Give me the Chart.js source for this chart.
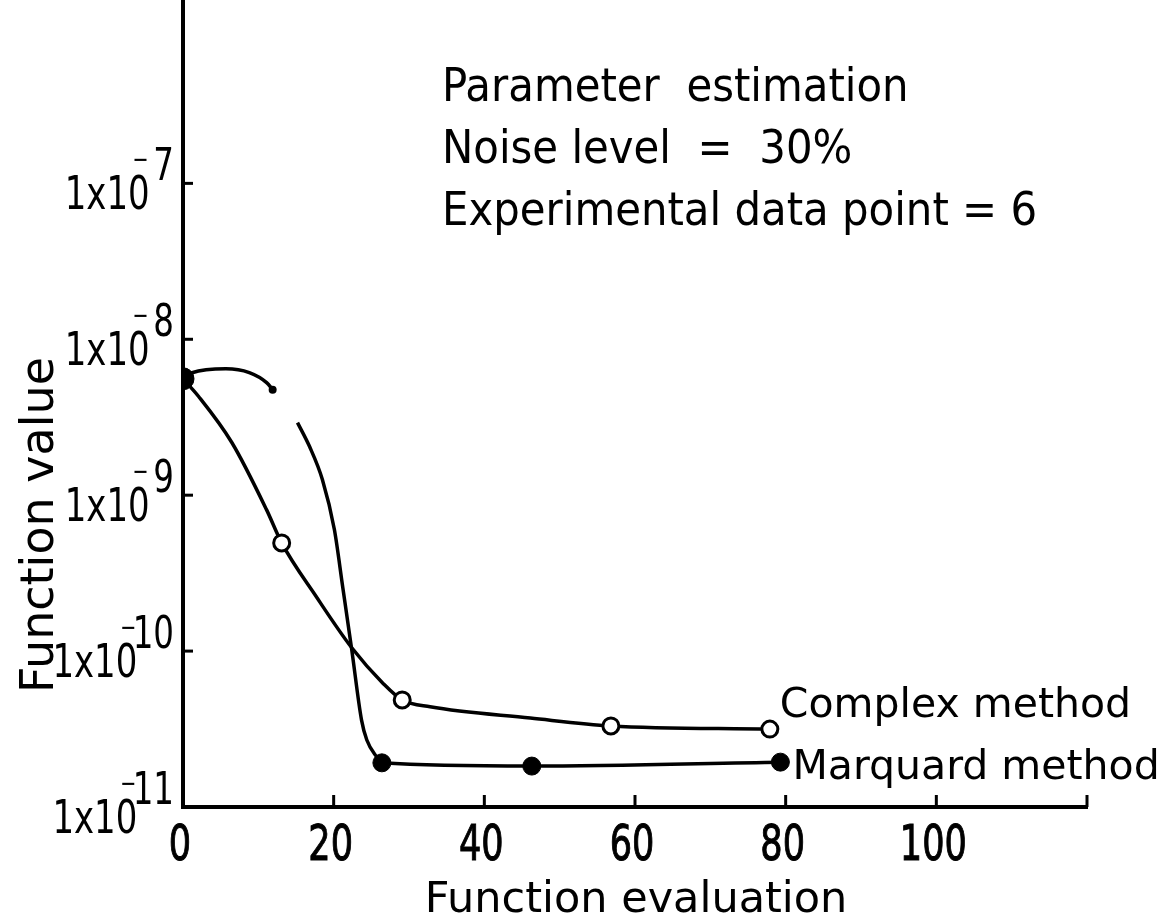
<!DOCTYPE html>
<html><head><meta charset="utf-8">
<script src="https://cdn.jsdelivr.net/npm/chart.js@4.4.1/dist/chart.umd.min.js"></script>
<style>html,body{margin:0;padding:0;background:#fff;} #wrap{width:1173px;height:923px;}</style>
</head><body><div id="wrap"><canvas id="c" width="1173" height="923"></canvas></div>
<script>
// ---- data ----
const xTickValues = [0, 20, 40, 60, 80, 100, 120];
const xTickLabels = ['0', '20', '40', '60', '80', '100', ''];
const yTickValues = [1e-11, 1e-10, 1e-9, 1e-8, 1e-7];
const yTickMain = '1x10';
const yTickExponents = ['11', '10', '9', '8', '7'];

// marked data points
const complexX = [13.1, 29.1, 56.8, 77.9];
const complexY = [4.94e-10, 4.86e-11, 3.31e-11, 3.16e-11];
const marquardX = [0, 26.4, 46.3, 79.3];
const marquardY = [5.58e-9, 1.92e-11, 1.83e-11, 1.94e-11];

// hand-drawn curves
const complexCurveX = [0, 2.1, 6.5, 11.1, 13.1, 17.7, 22.4, 26.5, 29.1, 32.8, 46.1, 56.8, 77.9];
const complexCurveY = [5.58e-9, 4.28e-9, 2.17e-9, 8.05e-10, 4.94e-10, 2.23e-10, 1.05e-10, 6.25e-11, 4.86e-11, 4.39e-11, 3.72e-11, 3.31e-11, 3.16e-11];
const marquardCurveX = [0, 1.2, 5.7, 8.8, 11.1, 11.9, 13.5, 15.2, 16.8, 18.5, 20.1, 21.2, 22.4, 23.7, 24.4, 25.7, 26.4, 46.3, 79.3];
const marquardCurveY = [5.58e-9, 6.1e-9, 6.47e-9, 6.11e-9, 5.27e-9, 4.75e-9, null, 2.92e-9, 2.05e-9, 1.26e-9, 6.0e-10, 2.58e-10, 1.02e-10, 3.61e-11, 2.69e-11, 2.1e-11, 1.92e-11, 1.83e-11, 1.94e-11];

const seriesNames = ['Complex method', 'Marquard method'];
const annotationLines = ['Parameter  estimation', 'Noise level  =  30%', 'Experimental data point = 6'];
const xTitle = 'Function evaluation';
const yTitle = 'Function value';

const pts = (xs, ys) => xs.map((x, i) => ({x: x, y: ys[i]}));

const NARROW = '"DejaVu Sans Condensed", "DejaVu Sans", sans-serif';
const SANS = '"DejaVu Sans", sans-serif';

// draw text squeezed horizontally by sx (hand lettering is tall and narrow)
function txt(ctx, s, x, y, font, align, sx, bold) {
  ctx.save();
  ctx.font = font;
  ctx.textAlign = align;
  ctx.translate(x, y);
  ctx.scale(sx, 1);
  ctx.fillText(s, 0, 0);
  if (bold) { ctx.lineWidth = bold; ctx.strokeText(s, 0, 0); }
  ctx.restore();
}
function txtW(ctx, s, font, sx) {
  ctx.save(); ctx.font = font; const w = ctx.measureText(s).width * sx; ctx.restore(); return w;
}

const drawPlugin = {
  id: 'figureText',
  afterDraw(chart) {
    const ctx = chart.ctx;
    const xs = chart.scales.x, ys = chart.scales.y;
    const area = chart.chartArea;
    ctx.save();
    ctx.fillStyle = '#000';
    ctx.strokeStyle = '#000';
    ctx.lineWidth = 3;
    ctx.textBaseline = 'alphabetic';
    // y ticks
    yTickValues.forEach((v, i) => {
      const py = ys.getPixelForValue(v);
      const ax = area.left;
      ctx.lineWidth = 3;
      if (i > 0) { ctx.beginPath(); ctx.moveTo(ax, py); ctx.lineTo(ax + 10, py); ctx.stroke(); }
      const exp = yTickExponents[i];
      const fExp = '44px ' + NARROW, fMain = '46px ' + NARROW;
      const ew = txtW(ctx, exp, fExp, 0.82);
      const expRight = ax - 9;
      txt(ctx, exp, expRight, py - 3, fExp, 'right', 0.82);
      const mainRight = expRight - ew * 0.6 - 12;
      txt(ctx, yTickMain, mainRight, py + 26, fMain, 'right', 0.82);
      txt(ctx, '\u2212', mainRight - 9, py - 15, '26px ' + NARROW, 'center', 0.82);
    });
    // x ticks
    xTickValues.forEach((v, i) => {
      const px = xs.getPixelForValue(v);
      ctx.lineWidth = 3;
      if (i > 0) { ctx.beginPath(); ctx.moveTo(px, area.bottom); ctx.lineTo(px, area.bottom - 12); ctx.stroke(); }
      txt(ctx, xTickLabels[i], px - 3, area.bottom + 53, '50px ' + NARROW, 'center', 0.78, 1);
    });
    // axis titles
    txt(ctx, xTitle, 636, 912, '43px ' + SANS, 'center', 1);
    ctx.save();
    ctx.translate(53, 525);
    ctx.rotate(-Math.PI / 2);
    ctx.font = '46px ' + SANS;
    ctx.textAlign = 'center';
    ctx.fillText(yTitle, 0, 0);
    ctx.restore();
    // annotation
    annotationLines.forEach((t, i) => txt(ctx, t, 442, 101 + i * 62, '46px ' + SANS, 'left', 0.91));
    // series labels next to the last markers
    const cL = xs.getPixelForValue(complexX[complexX.length - 1]);
    const cY = ys.getPixelForValue(complexY[complexY.length - 1]);
    const mL = xs.getPixelForValue(marquardX[marquardX.length - 1]);
    const mY = ys.getPixelForValue(marquardY[marquardY.length - 1]);
    txt(ctx, seriesNames[0], cL + 10, cY - 12, '41px ' + SANS, 'left', 1);
    txt(ctx, seriesNames[1], mL + 12, mY + 17, '41px ' + SANS, 'left', 1);
    ctx.restore();
  }
};

new Chart(document.getElementById('c'), {
  type: 'line',
  data: {
    datasets: [
      { label: seriesNames[0] + ' points', data: pts(complexX, complexY), showLine: false,
        pointRadius: 8, pointBorderWidth: 3, pointBackgroundColor: '#fff', pointBorderColor: '#000', order: 0 },
      { label: seriesNames[1] + ' points', data: pts(marquardX, marquardY), showLine: false,
        pointRadius: [11, 9, 9, 9], pointBorderWidth: 1, pointBackgroundColor: '#000', pointBorderColor: '#000', order: 0 },
      { label: seriesNames[0], data: pts(complexCurveX, complexCurveY), borderColor: '#000', borderWidth: 3.5,
        pointRadius: 0, cubicInterpolationMode: 'monotone', fill: false, order: 1 },
      { label: seriesNames[1], data: pts(marquardCurveX, marquardCurveY), borderColor: '#000', borderWidth: 3.5,
        pointRadius: marquardCurveX.map((x, i) => (marquardCurveY[i + 1] === null ? 4 : 0)),
        pointBackgroundColor: '#000', pointBorderWidth: 0,
        cubicInterpolationMode: 'monotone', fill: false, spanGaps: false, order: 1 }
    ]
  },
  options: {
    responsive: false,
    animation: false,
    devicePixelRatio: 1,
    layout: { autoPadding: false, padding: { left: 0, top: 0, right: 86, bottom: 0 } },
    plugins: { legend: { display: false }, tooltip: { enabled: false } },
    scales: {
      x: {
        type: 'linear', min: 0, max: 120,
        grid: { display: false },
        border: { display: true, color: '#000', width: 4 },
        ticks: { display: false },
        afterFit: s => { s.height = 116; }
      },
      y: {
        type: 'logarithmic', min: 1e-11, max: 1.5e-6,
        grid: { display: false },
        border: { display: true, color: '#000', width: 4 },
        ticks: { display: false },
        afterFit: s => { s.width = 183; }
      }
    }
  },
  plugins: [drawPlugin]
});
</script>
</body></html>
